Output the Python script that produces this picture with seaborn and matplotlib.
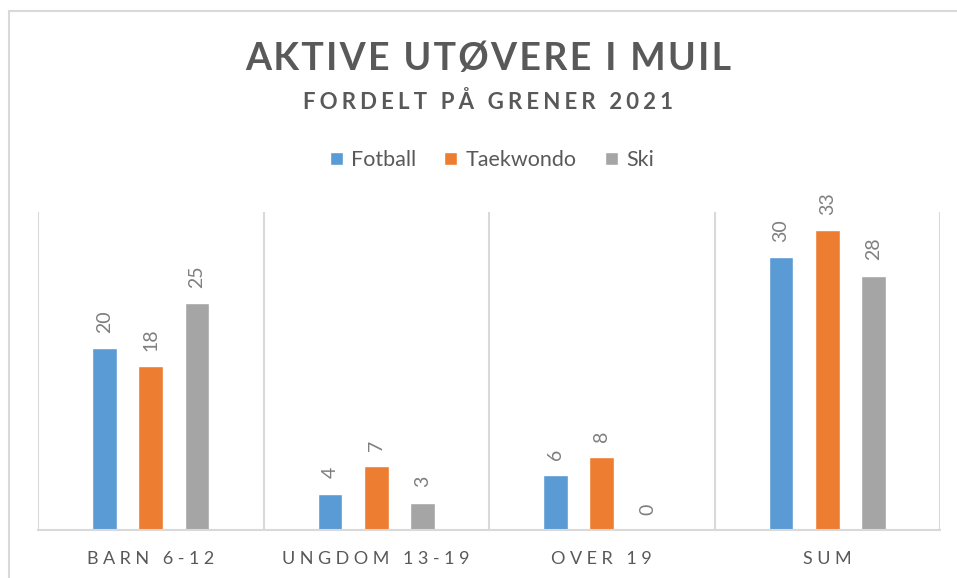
import matplotlib
matplotlib.use('Agg')
import matplotlib.pyplot as plt
from matplotlib.patches import Rectangle
import seaborn as sns
import pandas as pd

# Data
kategorier = ['BARN 6-12', 'UNGDOM 13-19', 'OVER 19', 'SUM']
grener = ['Fotball', 'Taekwondo', 'Ski']
fotball = [20, 4, 6, 30]
taekwondo = [18, 7, 8, 33]
ski = [25, 3, 0, 28]
farger = ['#5B9BD5', '#ED7D31', '#A5A5A5']

rows = []
for gren, verdier in zip(grener, [fotball, taekwondo, ski]):
    for kat, v in zip(kategorier, verdier):
        rows.append({'kategori': kat, 'gren': gren, 'antall': v})
df = pd.DataFrame(rows)

sns.set_theme(style='white')
plt.rcParams['font.family'] = ['Lato', 'DejaVu Sans']

TEXT = '#595959'
GRID = '#D9D9D9'


def spaced(s, sep):
    # crude letter spacing: put a narrow space between every character
    return sep.join(list(s))


fig = plt.figure(figsize=(9.57, 5.78), dpi=100)
ax = fig.add_axes([38 / 957, 48 / 578, 902 / 957, 318 / 578])

sns.barplot(data=df, x='kategori', y='antall', hue='gren', order=kategorier,
            hue_order=grener, palette=farger, width=0.616, gap=0.47,
            errorbar=None, ax=ax, saturation=1)

for cont in ax.containers:
    ax.bar_label(cont, rotation=90, padding=11, fontsize=14, color='#7F7F7F')

ax.set_ylim(0, 35)
ax.set_xlim(-0.5, len(kategorier) - 0.5)
ax.set_yticks([])
ax.set_xlabel('')
ax.set_ylabel('')

ax.set_xticks(range(len(kategorier)))
ax.set_xticklabels([spaced(k, '\u2009\u2009') for k in kategorier],
                   fontsize=13, color=TEXT)
ax.tick_params(axis='x', length=0, pad=15)

# vertical separators between categories
ax.set_xticks([i - 0.5 for i in range(len(kategorier) + 1)], minor=True)
ax.tick_params(axis='x', which='minor', length=0)
ax.grid(axis='x', which='minor', color=GRID, linewidth=1.5)
ax.grid(axis='x', which='major', visible=False)
ax.grid(axis='y', visible=False)

for side in ['top', 'right', 'left']:
    ax.spines[side].set_visible(False)
ax.spines['bottom'].set_color(GRID)
ax.spines['bottom'].set_linewidth(1.5)

# legend
handles, labels = ax.get_legend_handles_labels()
ax.legend(handles, labels, loc='center', bbox_to_anchor=(492 / 957, 1 - 160 / 578),
          bbox_transform=fig.transFigure, ncol=3, frameon=False, fontsize=15.5,
          handlelength=0.6, handleheight=0.6, handletextpad=0.4,
          columnspacing=1.3, labelcolor=TEXT)

# titles
fig.text(488 / 957, 1 - 59 / 578, spaced('AKTIVE UTØVERE I MUIL', '\u200a'),
         ha='center', va='center', fontsize=27, fontweight='bold', color=TEXT)
fig.text(488 / 957, 1 - 102 / 578, spaced('FORDELT PÅ GRENER 2021', '\u2009\u200a'),
         ha='center', va='center', fontsize=16, fontweight='bold', color=TEXT)

# chart frame (cropped at right and bottom)
fig.patches.append(Rectangle((9 / 957, -0.1), 1.2, 1 - 11 / 578 + 0.1,
                             transform=fig.transFigure, fill=False,
                             edgecolor=GRID, linewidth=1.5))

fig.savefig('out.png', dpi=100)
